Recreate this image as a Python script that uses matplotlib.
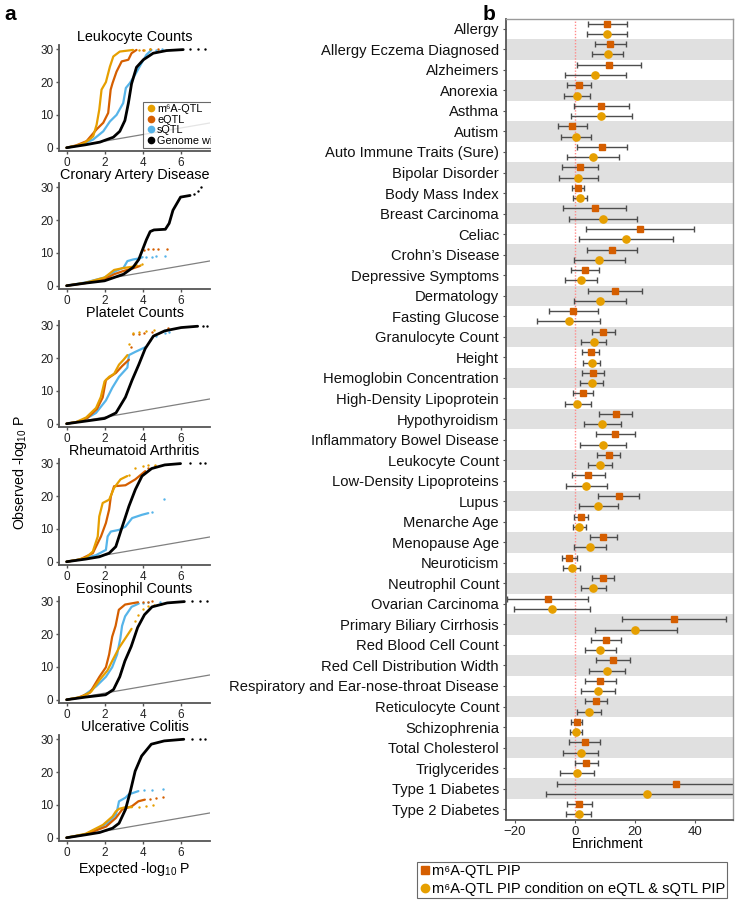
import matplotlib
matplotlib.use("Agg")
import matplotlib.pyplot as plt
from matplotlib.lines import Line2D
from matplotlib.transforms import Bbox, TransformedBbox

plt.rcParams['font.family'] = ['Liberation Sans', 'DejaVu Sans']
plt.rcParams['mathtext.fontset'] = 'custom'
plt.rcParams['mathtext.rm'] = 'Liberation Sans'
plt.rcParams['mathtext.it'] = 'Liberation Sans:italic'

# ---------------- Panel a data: (expected, observed) ----------------
PANEL_TITLES = ["Leukocyte Counts", "Cronary Artery Disease", "Platelet Counts",
                "Rheumatoid Arthritis", "Eosinophil Counts", "Ulcerative Colitis"]

LEU_M6A = [(0,0),(0.5,0.6),(0.88,1.3),(1.2,2.5),(1.4,3.5),(1.58,7),(1.72,11.6),(1.84,17.7),(2.07,20),(2.28,24.7),(2.46,27.8),(2.8,29.3),(3.5,29.8)]
LEU_M6A_T = [(3.8,29.9),(4.1,29.9),(4.4,30)]
LEU_EQ = [(0,0),(0.5,0.7),(1.05,2),(1.58,5.6),(1.93,7.6),(2.19,10.6),(2.32,17.7),(2.42,19.7),(2.63,23.2),(2.9,26.3),(3.25,26.8),(3.42,28.8),(3.68,29.8)]
LEU_EQ_T = [(4.0,29.9),(4.4,30),(4.8,30)]
LEU_SQ = [(0,0),(0.7,0.8),(1.4,2.5),(1.93,5),(2.28,8),(2.63,10),(2.98,13.6),(3.12,18.2),(3.33,19.7),(3.6,22.2),(3.95,25.8),(4.2,28.3),(4.47,29.8)]
LEU_SQ_T = [(4.7,29.9),(5.0,30)]
LEU_GW = [(0,0),(1,0.9),(1.75,1.7),(2.46,3.2),(2.8,5),(3.07,8.3),(3.25,13.5),(3.42,19.5),(3.68,24.5),(4.04,26.8),(4.56,28.8),(5.26,29.6),(6.14,29.9)]
LEU_GW_T = [(6.5,30),(6.9,30),(7.3,30)]

CAD_M6A = [(0,0),(1,0.9),(2,2.5),(2.5,4.8),(3.0,5.4),(3.5,5.8),(3.7,6.2)]
CAD_M6A_T = [(3.85,6.4),(3.95,6.6)]
CAD_EQ = [(0,0),(1,0.8),(2,2),(2.5,3.5),(3,4.5),(3.5,5.3),(3.85,6)]
CAD_EQ_T = [(4.05,11),(4.3,11.1),(4.55,11.2),(4.8,11.2),(5.3,11.2)]
CAD_SQ = [(0,0),(1,1),(2,2.5),(2.6,4.5),(3.0,5.5),(3.1,6.5),(3.2,7.5),(3.5,8),(3.8,8.3),(4.0,8.7)]
CAD_SQ_T = [(4.2,8.8),(4.5,8.9),(4.7,9),(5.2,9.1)]
CAD_GW = [(0,0),(1,0.8),(2,1.5),(3,3.5),(3.5,5.6),(3.8,8),(4.0,11),(4.2,14),(4.4,16.5),(4.6,17),(5.2,17.2),(5.4,19),(5.6,23),(5.8,25),(6.0,27),(6.5,27.5)]
CAD_GW_T = [(6.7,28),(6.9,29),(7.1,30)]

PLT_M6A = [(0,0),(0.5,0.5),(1.03,1.9),(1.55,4.8),(1.8,8.1),(2.0,12.9),(2.24,14.3),(2.5,15.2),(2.76,18),(3.0,19.5),(3.2,20.9)]
PLT_M6A_T = [(3.3,24.3),(3.5,27.6),(3.8,28),(4.2,28.3),(4.6,28.6)]
PLT_EQ = [(0,0),(0.6,0.6),(1.1,1.8),(1.6,4.5),(1.9,8),(2.07,13.3),(2.3,14.3),(2.6,15.5),(2.93,17.6),(3.28,19.5)]
PLT_EQ_T = [(3.4,23.5),(3.5,27.3),(3.8,27.4),(4.1,27.6),(4.5,27.8),(5.34,29.3)]
PLT_SQ = [(0,0),(0.8,0.8),(1.55,3.3),(2.07,7.1),(2.41,11),(2.76,14.3),(3.2,17.1),(3.28,20.9),(3.62,21.9),(4.14,23.3)]
PLT_SQ_T = [(4.4,25.5),(4.7,26.8),(5.2,27.7),(5.4,28.1)]
PLT_GW = [(0,0),(1,0.8),(2,1.6),(2.6,3.3),(3.1,8.1),(3.45,13.3),(3.8,18),(4.14,22.9),(4.57,26.7),(5.17,28.3),(6.03,29.3),(6.9,29.7)]
PLT_GW_T = [(7.2,29.8),(7.4,29.9)]

RA_M6A = [(0,0),(0.6,0.6),(1.03,1.3),(1.38,3.1),(1.64,7.7),(1.72,13.8),(1.9,17.9),(2.24,18.9),(2.5,22.5),(2.84,25.1),(3.19,26.1)]
RA_M6A_T = [(3.3,26.5),(3.6,28.5),(4.0,29.2),(4.3,29.4),(4.66,29.4)]
RA_EQ = [(0,0),(0.7,0.7),(1.38,2.6),(1.81,7.7),(2.07,11.8),(2.24,15.9),(2.33,19.9),(2.5,23),(3.1,23.3),(3.62,25.1),(4.14,27.6)]
RA_EQ_T = [(4.3,28.5),(4.66,29.2)]
RA_SQ = [(0,0),(0.8,0.8),(1.55,2),(2.07,3.6),(2.16,7.7),(2.33,9.2),(2.76,9.7),(3.1,10.7),(3.45,13.3),(3.97,14.3),(4.3,14.8)]
RA_SQ_T = [(4.48,15.3),(5.14,19.2)]
RA_GW = [(0,0),(1,0.8),(1.72,1.5),(2.24,2.6),(2.59,4.6),(2.93,10.7),(3.28,16.9),(3.62,22),(3.97,26.1),(4.48,28.4),(5.17,29.5),(6.0,29.9)]
RA_GW_T = [(6.5,30),(7.0,30),(7.3,30)]

EOS_M6A = [(0,0),(0.8,0.9),(1.3,2.5),(1.73,6),(2.15,8.9),(2.4,11.8),(2.75,15.7),(3.08,18.6),(3.42,21.6)]
EOS_M6A_T = [(3.6,24),(3.76,25.9),(4.0,27.5),(4.3,28.5),(4.6,29),(4.95,29.3)]
EOS_EQ = [(0,0),(0.6,0.6),(1.22,2.1),(1.73,7),(2.07,9.9),(2.24,13.8),(2.4,19.2),(2.58,22.5),(2.75,27.4),(3.08,29),(3.76,29.7)]
EOS_EQ_T = [(4.0,29.8),(4.3,29.9),(4.5,30)]
EOS_SQ = [(0,0),(0.8,0.8),(1.56,4.1),(2.07,7),(2.4,9.9),(2.66,13.8),(2.83,18.7),(2.92,22.5),(3.08,25.4),(3.42,28.3),(3.8,29.3)]
EOS_SQ_T = [(4.0,29.5),(4.3,29.7),(4.9,29.8)]
EOS_GW = [(0,0),(1,0.8),(2.05,1.5),(2.47,3.1),(2.8,7),(3.07,11.8),(3.4,16.2),(3.74,22),(4.1,25.9),(4.5,28.3),(5.3,29.5),(6.2,29.9)]
EOS_GW_T = [(6.6,30),(7.0,30),(7.4,30)]

UC_M6A = [(0,0),(1,1.2),(1.91,3.9),(2.42,6.5),(2.59,8),(2.76,8.8),(3.1,9.3),(3.44,9.3)]
UC_M6A_T = [(3.8,9.5),(4.2,9.7),(4.55,10.1)]
UC_EQ = [(0,0),(1,1),(2.08,3.4),(2.59,6),(2.93,8.6),(3.44,9.6),(3.78,11.1),(4.12,11.6)]
UC_EQ_T = [(4.4,11.9),(4.7,12),(5.06,12.4)]
UC_SQ = [(0,0),(1,1.1),(1.74,2.9),(2.25,4.9),(2.59,7),(2.67,8.6),(2.76,11.1),(3.1,12.2),(3.27,13.2),(3.78,14.2)]
UC_SQ_T = [(4.1,14.4),(4.5,14.5),(5.06,14.7)]
UC_GW = [(0,0),(1,0.9),(1.74,1.6),(2.42,2.9),(2.76,4.4),(3.1,8.6),(3.36,14.2),(3.61,20.3),(3.95,24.9),(4.46,28.5),(5.14,29.5),(6.17,30)]
UC_GW_T = [(6.6,30),(7.0,30),(7.3,30)]

PANELS = [
    (LEU_M6A, LEU_M6A_T, LEU_EQ, LEU_EQ_T, LEU_SQ, LEU_SQ_T, LEU_GW, LEU_GW_T),
    (CAD_M6A, CAD_M6A_T, CAD_EQ, CAD_EQ_T, CAD_SQ, CAD_SQ_T, CAD_GW, CAD_GW_T),
    (PLT_M6A, PLT_M6A_T, PLT_EQ, PLT_EQ_T, PLT_SQ, PLT_SQ_T, PLT_GW, PLT_GW_T),
    (RA_M6A, RA_M6A_T, RA_EQ, RA_EQ_T, RA_SQ, RA_SQ_T, RA_GW, RA_GW_T),
    (EOS_M6A, EOS_M6A_T, EOS_EQ, EOS_EQ_T, EOS_SQ, EOS_SQ_T, EOS_GW, EOS_GW_T),
    (UC_M6A, UC_M6A_T, UC_EQ, UC_EQ_T, UC_SQ, UC_SQ_T, UC_GW, UC_GW_T),
]
SERIES_NAMES = ["m\u2076A-QTL", "eQTL", "sQTL", "Genome wide"]
SERIES_COLORS = ["#E69F00", "#D55E00", "#56B4E9", "#000000"]
QQ_XTICKS = [0, 2, 4, 6]
QQ_YTICKS = [0, 10, 20, 30]

# ---------------- Panel b data ----------------
TRAITS = ["Allergy", "Allergy Eczema Diagnosed", "Alzheimers", "Anorexia", "Asthma", "Autism",
          "Auto Immune Traits (Sure)", "Bipolar Disorder", "Body Mass Index", "Breast Carcinoma",
          "Celiac", "Crohn\u2019s Disease", "Depressive Symptoms", "Dermatology", "Fasting Glucose",
          "Granulocyte Count", "Height", "Hemoglobin Concentration", "High-Density Lipoprotein",
          "Hypothyroidism", "Inflammatory Bowel Disease", "Leukocyte Count", "Low-Density Lipoproteins",
          "Lupus", "Menarche Age", "Menopause Age", "Neuroticism", "Neutrophil Count",
          "Ovarian Carcinoma", "Primary Biliary Cirrhosis", "Red Blood Cell Count",
          "Red Cell Distribution Width", "Respiratory and Ear-nose-throat Disease",
          "Reticulocyte Count", "Schizophrenia", "Total Cholesterol", "Triglycerides",
          "Type 1 Diabetes", "Type 2 Diabetes"]
PIP_EST = [10.7, 11.8, 11.4, 1.3, 8.8, -0.9, 9.1, 1.7, 1.0, 6.6, 21.6, 12.3, 3.3, 13.4, -0.6,
           9.4, 5.3, 6.1, 2.6, 13.6, 13.4, 11.2, 4.4, 14.6, 1.9, 9.3, -1.9, 9.2, -9.1, 32.9,
           10.2, 12.6, 8.4, 7.0, 0.6, 3.2, 3.8, 33.6, 1.4]
PIP_LO = [4.2, 6.7, 0.8, -2.6, -0.4, -5.8, 0.6, -4.2, -1.1, -4.1, 3.6, 4.0, -1.2, 4.4, -8.7,
          5.6, 2.4, 2.4, -0.8, 8.1, 6.9, 7.4, -1.0, 7.8, -0.2, 4.9, -4.4, 5.6, -22.6, 15.6,
          5.4, 6.9, 3.3, 3.3, -1.4, -1.9, 0.0, -5.9, -2.6]
PIP_HI = [17.2, 16.9, 22.1, 5.2, 17.9, 4.0, 17.4, 7.6, 3.1, 17.1, 39.6, 20.7, 8.1, 22.3, 7.6,
          13.2, 8.1, 9.8, 6.1, 19.1, 19.9, 15.0, 10.1, 21.3, 4.2, 13.9, 0.8, 13.0, 4.2, 50.3,
          15.4, 18.2, 13.7, 10.7, 2.3, 8.3, 7.6, 73.1, 5.6]
COND_EST = [10.7, 10.9, 6.8, 0.6, 8.8, 0.3, 6.0, 1.1, 1.8, 9.4, 16.9, 8.1, 2.1, 8.3, -2.1,
            6.2, 5.6, 5.6, 0.8, 9.1, 9.3, 8.3, 3.8, 7.8, 1.4, 5.0, -1.0, 6.1, -7.7, 20.1,
            8.4, 10.7, 7.7, 4.7, 0.3, 2.0, 0.8, 23.9, 1.2]
COND_LO = [4.0, 5.8, -3.2, -3.8, -1.3, -4.6, -2.7, -5.4, -0.7, -2.0, 1.3, -0.2, -3.2, -0.4, -12.6,
           2.1, 2.7, 1.7, -3.3, 2.9, 1.7, 4.3, -3.0, 1.2, -0.8, -0.2, -3.9, 2.0, -20.3, 6.6,
           3.3, 4.6, 2.0, 0.7, -1.7, -3.9, -4.9, -9.8, -2.9]
COND_HI = [17.3, 16.1, 16.9, 4.9, 18.9, 5.2, 14.6, 7.7, 4.1, 20.8, 32.6, 16.7, 7.4, 17.0, 8.4,
           10.3, 8.4, 9.4, 5.2, 15.4, 16.9, 12.4, 10.6, 14.4, 3.8, 10.2, 1.7, 10.3, 5.0, 33.9,
           13.7, 16.7, 13.2, 8.8, 2.3, 7.8, 6.4, 57.6, 5.3]
ENRICH_TICKS = [-20, 0, 20, 40]
LEGEND_B = ["m\u2076A-QTL PIP", "m\u2076A-QTL PIP condition on eQTL & sQTL PIP"]
COL_SQUARE = "#D55E00"
COL_CIRCLE = "#E69F00"

# ---------------- Figure ----------------
W, H = 735, 900
fig = plt.figure(figsize=(W / 100, H / 100), dpi=100)

def fx(px):
    return px / W

def fy(px):
    return 1 - px / H

spine_col = "#555555"
ax_left, ax_w, ax_h = 59, 151, 106
tops = [45 + 138 * i for i in range(6)]
qq_axes = []
for i, (title, series) in enumerate(zip(PANEL_TITLES, PANELS)):
    top = tops[i]
    ax = fig.add_axes([fx(ax_left), fy(top + ax_h), fx(ax_w), ax_h / H])
    qq_axes.append(ax)
    ax.plot([0, 8], [0, 8], color="#808080", lw=0.9, zorder=1)
    for k in range(4):
        line = series[2 * k]
        tail = series[2 * k + 1]
        lw = 2.0 if k == 3 else 1.6
        zo = 5 if k == 3 else 3 + (2 - k) * 0.1
        ax.plot([p[0] for p in line], [p[1] for p in line], color=SERIES_COLORS[k], lw=lw,
                zorder=zo, solid_capstyle="round")
        ax.scatter([p[0] for p in tail], [p[1] for p in tail], s=3, color=SERIES_COLORS[k],
                   zorder=zo, linewidths=0)
    ax.set_xlim(-0.4, 7.55)
    ax.set_ylim(-1, 31.3)
    ax.set_xticks(QQ_XTICKS)
    ax.set_yticks(QQ_YTICKS)
    ax.tick_params(labelsize=8.5, length=2.5, width=1, color=spine_col, pad=1.5, labelcolor="#222222")
    for s in ["top", "right"]:
        ax.spines[s].set_visible(False)
    for s in ["left", "bottom"]:
        ax.spines[s].set_color(spine_col)
        ax.spines[s].set_linewidth(1.3)
    ax.set_title(title, fontsize=10.4, pad=3)

qq_axes[-1].set_xlabel(r"Expected -log$_{10}$ P", fontsize=10.2, labelpad=1)
fig.text(fx(20), fy(473), r"Observed -log$_{10}$ P", rotation=90, fontsize=10.2,
         ha="center", va="center")

handles = [Line2D([], [], marker="o", ls="none", color=c, markersize=4.5) for c in SERIES_COLORS]
leg = qq_axes[0].legend(handles, SERIES_NAMES, loc="upper left", bbox_to_anchor=(0.556, 0.462),
                        borderaxespad=0, fontsize=7.8, frameon=True, fancybox=False,
                        handletextpad=0.1, handlelength=1.0, labelspacing=0.05,
                        borderpad=0.2, edgecolor="#444444")
leg.get_frame().set_linewidth(0.8)
clip_box = TransformedBbox(Bbox([[0, 0], [fx(211), 1]]), fig.transFigure)
for art in leg.findobj():
    art.set_clip_box(clip_box)
    art.set_clip_on(True)

# ---------------- Panel b ----------------
axb = fig.add_axes([fx(506), fy(819.5), fx(733 - 506), (819.5 - 18.5) / H])
n = len(TRAITS)
ys = list(range(n))
for i in ys:
    if i % 2 == 1:
        axb.axhspan(i - 0.5, i + 0.5, color="#E0E0E0", lw=0, zorder=0)
axb.axvline(0, color="#FF8A8A", ls=(0, (1, 1.2)), lw=1, zorder=1)
off = 0.25
ys_sq = [y - off for y in ys]
ys_ci = [y + off for y in ys]
axb.errorbar(PIP_EST, ys_sq,
             xerr=[[e - lo for e, lo in zip(PIP_EST, PIP_LO)], [hi - e for e, hi in zip(PIP_EST, PIP_HI)]],
             fmt="none", ecolor="#4D4D4D", elinewidth=1, capsize=2, capthick=1, zorder=2)
axb.errorbar(COND_EST, ys_ci,
             xerr=[[e - lo for e, lo in zip(COND_EST, COND_LO)], [hi - e for e, hi in zip(COND_EST, COND_HI)]],
             fmt="none", ecolor="#4D4D4D", elinewidth=1, capsize=2, capthick=1, zorder=2)
axb.plot(PIP_EST, ys_sq, ls="none", marker="s", markersize=5, color=COL_SQUARE, zorder=3)
axb.plot(COND_EST, ys_ci, ls="none", marker="o", markersize=5.2, color=COL_CIRCLE, zorder=3)
axb.set_ylim(n - 0.5, -0.5)
axb.set_xlim(-23, 52.7)
axb.set_yticks(ys)
axb.set_yticklabels(TRAITS, fontsize=10.6)
axb.set_xticks(ENRICH_TICKS)
axb.tick_params(axis="x", labelsize=9.5, length=2.5, color=spine_col, labelcolor="#222222", pad=2)
axb.tick_params(axis="y", length=2, color=spine_col, pad=3, labelcolor="#111111")
for s in axb.spines.values():
    s.set_color("#9A9A9A")
    s.set_linewidth(1)
axb.spines["left"].set_color(spine_col)
axb.spines["left"].set_linewidth(1.3)
axb.spines["bottom"].set_color(spine_col)
axb.spines["bottom"].set_linewidth(1.3)
axb.set_xlabel("Enrichment", fontsize=10.2)
axb.xaxis.set_label_coords((608 - 506) / (733 - 506), -(837 - 819.5) / (819.5 - 18.5),
                           transform=axb.transAxes)
axb.xaxis.label.set_va("top")

hb = [Line2D([], [], marker="s", ls="none", color=COL_SQUARE, markersize=6),
      Line2D([], [], marker="o", ls="none", color=COL_CIRCLE, markersize=6)]
legb = fig.legend(hb, LEGEND_B, loc="upper left", bbox_to_anchor=(fx(417), fy(862)),
                  borderaxespad=0, fontsize=10.5, frameon=True, fancybox=False,
                  handletextpad=0.05, handlelength=0.8, labelspacing=0.25,
                  borderpad=0.15, edgecolor="#444444")
legb.get_frame().set_linewidth(0.8)

fig.text(fx(4), fy(15), "a", fontsize=15, fontweight="bold", va="center")
fig.text(fx(483), fy(15), "b", fontsize=15, fontweight="bold", va="center")

fig.savefig("out.png", dpi=100)
